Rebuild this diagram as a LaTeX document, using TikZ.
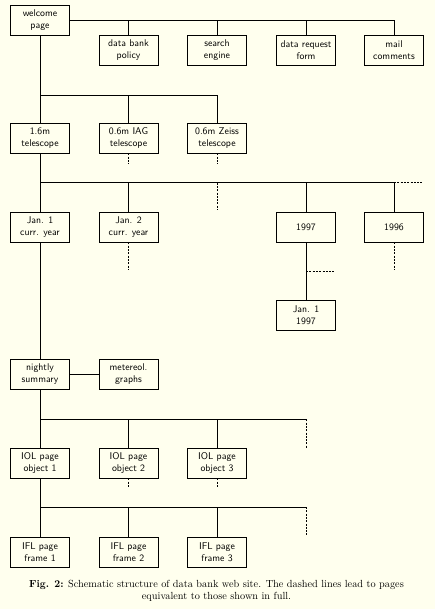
\documentclass[tikz,border=0pt]{standalone}
\usepackage{xcolor}
\definecolor{bgcream}{RGB}{255,255,238}
\begin{document}
\begin{tikzpicture}[x=1pt,y=-1pt,
  box/.style={draw,line width=0.8pt,minimum width=59pt,minimum height=30pt,inner sep=1pt,
    align=center,font=\sffamily\fontsize{9.8}{12}\selectfont},
  ln/.style={line width=0.8pt},
  dl/.style={line width=0.8pt,dash pattern=on 2pt off 1.3pt}]
\fill[bgcream] (0,0) rectangle (435,609);
\useasboundingbox (0,0) rectangle (435,609);
% nodes
\node[box] (welcome) at (40,20) {welcome\\page};
\node[box] (policy) at (128.5,50) {data bank\\policy};
\node[box] (search) at (217,50) {search\\engine};
\node[box] (request) at (306,50) {data request\\form};
\node[box] (mail) at (394,50) {mail\\comments};
\node[box] (tel16) at (40,138) {1.6m\\telescope};
\node[box] (iag) at (128.5,138) {0.6m IAG\\telescope};
\node[box] (zeiss) at (217,138) {0.6m Zeiss\\telescope};
\node[box] (jan1) at (40,227) {Jan. 1\\curr. year};
\node[box] (jan2) at (128.5,227) {Jan. 2\\curr. year};
\node[box] (y97) at (306,227) {1997};
\node[box] (y96) at (394,227) {1996};
\node[box] (jan97) at (306,315) {Jan. 1\\1997};
\node[box] (night) at (40,374) {nightly\\summary};
\node[box] (graphs) at (128.5,374) {metereol.\\graphs};
\node[box] (iol1) at (40,463) {IOL page\\object 1};
\node[box] (iol2) at (128.5,463) {IOL page\\object 2};
\node[box] (iol3) at (217,463) {IOL page\\object 3};
\node[box] (ifl1) at (40,552.5) {IFL page\\frame 1};
\node[box] (ifl2) at (128.5,552.5) {IFL page\\frame 2};
\node[box] (ifl3) at (217,552.5) {IFL page\\frame 3};
% bus coordinates
\coordinate (b1) at (40,95);
\coordinate (b2) at (40,182.7);
\coordinate (b3) at (40,419.3);
\coordinate (b4) at (40,507);
% top level
\draw[ln] (welcome.east) -| (mail.north);
\foreach \n in {policy,search,request}
  \draw[ln] (\n.north) -- (\n.north |- welcome.east);
\draw[ln] (welcome.south) -- (tel16.north);
% telescopes
\draw[ln] (b1) -| (zeiss.north);
\draw[ln] (iag.north) -- (iag.north |- b1);
\coordinate (iagd) at (128.5,164);
\coordinate (zeissd) at (217,164);
\draw[dl] (iag.south) -- (iagd);
\draw[dl] (zeiss.south) -- (zeissd);
% years
\draw[ln] (tel16.south) -- (jan1.north);
\draw[ln] (b2) -| (y96.north);
\foreach \n in {jan2,y97}
  \draw[ln] (\n.north) -- (\n.north |- b2);
\coordinate (bend) at (423,182.7);
\draw[dl] (y96.north |- b2) -- (bend);
\coordinate (b2a) at (217,182.7);
\coordinate (b2ad) at (217,210);
\draw[dl] (b2a) -- (b2ad);
\coordinate (jan2d) at (128.5,269);
\coordinate (y96d) at (394,269);
\draw[dl] (jan2.south) -- (jan2d);
\draw[dl] (y96.south) -- (y96d);
\draw[ln] (y97.south) -- (jan97.north);
\coordinate (y97a) at (306,271);
\coordinate (y97b) at (334,271);
\draw[dl] (y97a) -- (y97b);
% nightly
\draw[ln] (jan1.south) -- (night.north);
\draw[ln] (night.east) -- (graphs.west);
\draw[ln] (night.south) -- (iol1.north);
\coordinate (b3e) at (306,419.3);
\coordinate (b3d) at (306,448);
\draw[ln] (b3) -- (b3e);
\draw[dl] (b3e) -- (b3d);
\foreach \n in {iol2,iol3}
  \draw[ln] (\n.north) -- (\n.north |- b3);
\coordinate (iol2d) at (128.5,488);
\coordinate (iol3d) at (217,488);
\draw[dl] (iol2.south) -- (iol2d);
\draw[dl] (iol3.south) -- (iol3d);
% frames
\draw[ln] (iol1.south) -- (ifl1.north);
\coordinate (b4e) at (306,507);
\coordinate (b4d) at (306,536);
\draw[ln] (b4) -- (b4e);
\draw[dl] (b4e) -- (b4d);
\foreach \n in {ifl2,ifl3}
  \draw[ln] (\n.north) -- (\n.north |- b4);
% caption
\node[align=center,font=\fontsize{10.3}{12.5}\selectfont] (cap) at (216.5,591)
  {\textbf{Fig. 2:} Schematic structure of data bank web site. The dashed lines lead to pages\\
   equivalent to those shown in full.};
\end{tikzpicture}
\end{document}
